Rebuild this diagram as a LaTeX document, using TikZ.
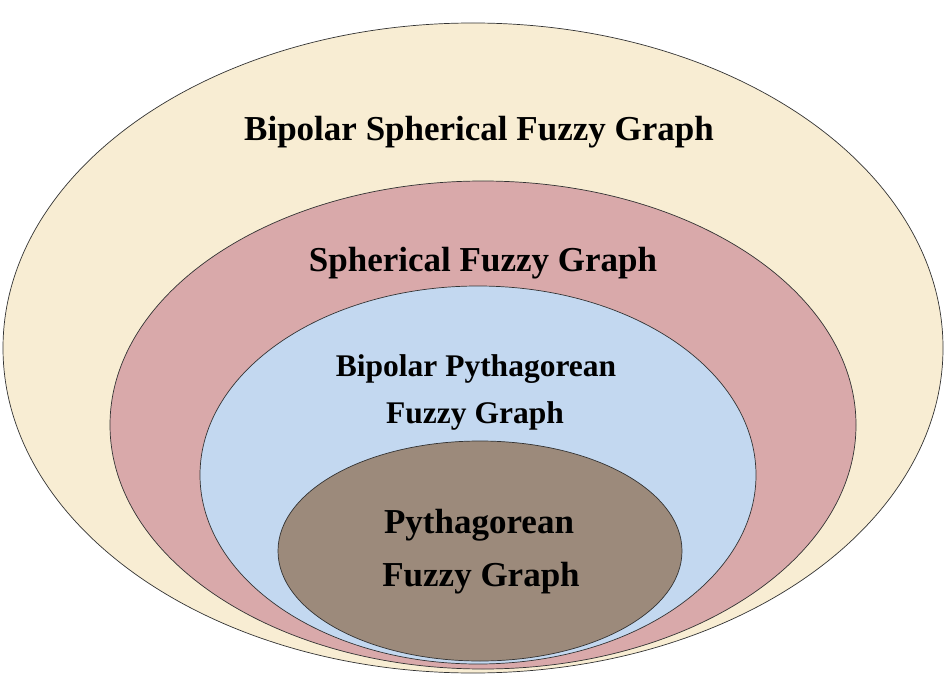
\documentclass[tikz,border=0pt]{standalone}
\usepackage{fontspec}
\setmainfont{Liberation Serif}
\definecolor{cream}{HTML}{F8EDD3}
\definecolor{rose}{HTML}{D9A9AA}
\definecolor{skyb}{HTML}{C3D8F0}
\definecolor{sand}{HTML}{9C8A7B}
\begin{document}
\begin{tikzpicture}[x=1pt,y=-1pt,
  ring/.style={draw=black!80,line width=0.7pt},
  lbl/.style={font=\bfseries\fontsize{35}{40}\selectfont,text=black,align=center,inner sep=0pt},
  lbls/.style={lbl,font=\bfseries\fontsize{31.5}{36}\selectfont}]
\useasboundingbox (0,0) rectangle (944,676);
\fill[white] (0,0) rectangle (944,676);
\draw[ring,fill=cream] (473,348) ellipse [x radius=470,y radius=325];
\draw[ring,fill=rose] (483,425) ellipse [x radius=373,y radius=244];
\draw[ring,fill=skyb] (478,475) ellipse [x radius=278,y radius=189];
\draw[ring,fill=sand] (480,551) ellipse [x radius=202,y radius=110];
\node[lbl] (t1) at (479,132) {Bipolar Spherical Fuzzy Graph};
\node[lbl] (t2) at (483,263) {Spherical Fuzzy Graph};
\node[lbls] (t3) at (476,369) {Bipolar Pythagorean};
\node[lbls] (t4) at (475,416) {Fuzzy Graph};
\node[lbl] (t5) at (479,525) {Pythagorean};
\node[lbl] (t6) at (481,578) {Fuzzy Graph};
\end{tikzpicture}
\end{document}
